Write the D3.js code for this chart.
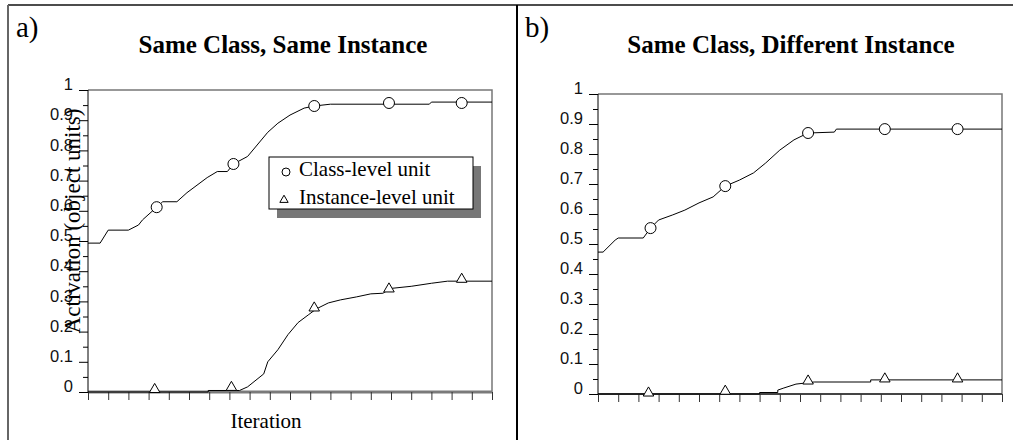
<!DOCTYPE html>
<html>
<head>
<meta charset="utf-8">
<script src="https://cdn.jsdelivr.net/npm/d3@7"></script>
<style>
  body { margin: 0; background: #fff; }
  .serif { font-family: "Liberation Serif", "Times New Roman", serif; }
  .sans { font-family: "Liberation Sans", Arial, sans-serif; }
</style>
</head>
<body>
<svg id="chart" width="1013" height="440"></svg>
<script>
// iteration, activation pairs
const sameClassLevel = [[0, 0.493], [6, 0.493], [10, 0.536], [20, 0.536], [25, 0.553], [27, 0.57], [34, 0.612],
  [37, 0.63], [44, 0.63], [49, 0.66], [59, 0.71], [64, 0.73], [69, 0.73], [72, 0.755], [79, 0.78], [89, 0.86],
  [94, 0.89], [100, 0.917], [107, 0.94], [112, 0.947], [120, 0.953], [169, 0.953], [170, 0.96], [200, 0.96]];
const sameInstanceLevel = [[0, 0], [59.5, 0], [59.5, 0.005], [75, 0.005], [79, 0.017], [87, 0.06], [89, 0.1],
  [94, 0.14], [99, 0.19], [104, 0.23], [109, 0.255], [113, 0.275], [119, 0.295], [125, 0.305], [133, 0.315],
  [140, 0.325], [146, 0.327], [150, 0.343], [160, 0.35], [170, 0.36], [178, 0.367], [200, 0.367]];
const diffClassLevel = [[0, 0.473], [2.5, 0.473], [8.5, 0.513], [10, 0.52], [22.4, 0.52], [26, 0.553], [30, 0.58],
  [37, 0.597], [43, 0.613], [50, 0.637], [57, 0.657], [63, 0.693], [70, 0.713], [77, 0.737], [83, 0.77],
  [90, 0.813], [97, 0.847], [100, 0.857], [104, 0.87], [117, 0.873], [118, 0.883], [200, 0.883]];
const diffInstanceLevel = [[0, 0], [80, 0], [80, 0.005], [89, 0.005], [89, 0.013], [92, 0.02], [98, 0.033],
  [107, 0.04], [135, 0.04], [135, 0.047], [200, 0.047]];

// marker positions
const sameClassMarks = [[34, 0.612], [72, 0.755], [112, 0.947], [149, 0.957], [185, 0.957]];
const sameInstanceMarks = [[33, 0.005], [71, 0.012], [112, 0.275], [149, 0.338], [185, 0.37]];
const diffClassMarks = [[26, 0.553], [63, 0.693], [104, 0.87], [142, 0.883], [178, 0.883]];
const diffInstanceMarks = [[25, 0.0], [63, 0.006], [104, 0.04], [142, 0.047], [178, 0.047]];

const yTickLabels = ["0", "0.1", "0.2", "0.3", "0.4", "0.5", "0.6", "0.7", "0.8", "0.9", "1"];
const xTicks = d3.range(0, 201, 10);
const legendLabels = ["Class-level unit", "Instance-level unit"];

const svg = d3.select("#chart");

// outer frame and panel divider
svg.append("line").attr("x1", 8).attr("x2", 1013).attr("y1", 5).attr("y2", 5)
  .attr("stroke", "#111").attr("stroke-width", 1.5);
svg.append("line").attr("x1", 8).attr("x2", 8).attr("y1", 5).attr("y2", 440)
  .attr("stroke", "#666").attr("stroke-width", 2);
svg.append("line").attr("x1", 517).attr("x2", 517).attr("y1", 5).attr("y2", 440)
  .attr("stroke", "#000").attr("stroke-width", 2);

function drawPanel(opts) {
  const x = d3.scaleLinear().domain([0, 200]).range([opts.left, opts.right]);
  const y = d3.scaleLinear().domain([0, 1]).range([opts.bottom, opts.top]);
  const g = svg.append("g");

  g.append("text").attr("class", "serif").attr("x", opts.tagX).attr("y", 37)
    .attr("font-size", 29).text(opts.tag);
  g.append("text").attr("class", "serif").attr("x", opts.titleX).attr("y", 53)
    .attr("text-anchor", "middle").attr("font-size", 25).attr("font-weight", "bold")
    .text(opts.title);

  // top and right frame
  g.append("path")
    .attr("d", `M${opts.left},${y(1)}H${opts.right}V${opts.bottom}`)
    .attr("fill", "none").attr("stroke", "#777").attr("stroke-width", 1.5);

  // bottom axis
  g.append("line").attr("x1", opts.left).attr("x2", opts.right)
    .attr("y1", opts.bottom).attr("y2", opts.bottom)
    .attr("stroke", opts.baseColor).attr("stroke-width", opts.baseWidth);
  const xAxis = d3.axisBottom(x).tickValues(xTicks).tickSize(8).tickFormat("");
  g.append("g").attr("transform", `translate(0,${opts.bottom})`).call(xAxis)
    .call(a => a.select(".domain").remove())
    .call(a => a.selectAll("line").attr("stroke", "#333"));

  // left axis with major + minor ticks
  const yMinor = d3.axisLeft(y).tickValues(d3.range(0.05, 1, 0.1)).tickSize(5).tickFormat("");
  g.append("g").attr("transform", `translate(${opts.left},0)`).call(yMinor)
    .call(a => a.select(".domain").remove());
  const yAxis = d3.axisLeft(y).tickValues(d3.range(0, 11).map(d => d / 10)).tickSize(9)
    .tickPadding(6).tickFormat((d, i) => yTickLabels[i]);
  g.append("g").attr("transform", `translate(${opts.left},0)`).call(yAxis)
    .call(a => a.select(".domain").attr("d", `M0,${y(1)}V${opts.bottom}`).attr("stroke", "#000"))
    .call(a => a.selectAll("text").attr("class", "sans").attr("font-size", 16.5)
      .attr("fill", "#111").attr("dy", "-0.02em"));

  const line = d3.line().x(d => x(d[0])).y(d => y(d[1]));
  [opts.classLevel, opts.instanceLevel].forEach(s => {
    g.append("path").attr("d", line(s)).attr("fill", "none")
      .attr("stroke", "#000").attr("stroke-width", 1);
  });

  g.selectAll(".cmark").data(opts.classMarks).enter().append("circle")
    .attr("cx", d => x(d[0])).attr("cy", d => y(d[1])).attr("r", 5.5)
    .attr("fill", "#fff").attr("stroke", "#000");
  const tri = d3.symbol().type(d3.symbolTriangle).size(48);
  g.selectAll(".tmark").data(opts.instanceMarks).enter().append("path")
    .attr("d", tri).attr("transform", d => `translate(${x(d[0])},${y(d[1]) - 1})`)
    .attr("fill", "#fff").attr("stroke", "#000");
  return g;
}

const ga = drawPanel({
  left: 88, right: 492, top: 90, bottom: 392, tag: "a)", tagX: 16, titleX: 283,
  title: "Same Class, Same Instance", baseColor: "#7a7a7a", baseWidth: 3,
  classLevel: sameClassLevel, instanceLevel: sameInstanceLevel,
  classMarks: sameClassMarks, instanceMarks: sameInstanceMarks
});
drawPanel({
  left: 598, right: 1002, top: 94, bottom: 394, tag: "b)", tagX: 525, titleX: 791,
  title: "Same Class, Different Instance", baseColor: "#444", baseWidth: 2,
  classLevel: diffClassLevel, instanceLevel: diffInstanceLevel,
  classMarks: diffClassMarks, instanceMarks: diffInstanceMarks
});

// axis titles (panel a only)
ga.append("text").attr("class", "serif").attr("font-size", 23)
  .attr("transform", "translate(80,221) rotate(-90)").attr("text-anchor", "middle")
  .text("Activation (object units)");
ga.append("text").attr("class", "serif").attr("font-size", 21)
  .attr("x", 266).attr("y", 428).attr("text-anchor", "middle").text("Iteration");

// legend with drop shadow
const legend = ga.append("g").attr("transform", "translate(269,157)");
legend.append("rect").attr("x", 8).attr("y", 9).attr("width", 204).attr("height", 52).attr("fill", "#777");
legend.append("rect").attr("width", 204).attr("height", 52).attr("fill", "#fff")
  .attr("stroke", "#000").attr("stroke-width", 1);
legend.append("circle").attr("cx", 17).attr("cy", 15).attr("r", 4)
  .attr("fill", "#fff").attr("stroke", "#000");
legend.append("path").attr("d", d3.symbol().type(d3.symbolTriangle).size(30))
  .attr("transform", "translate(15,43)").attr("fill", "#fff").attr("stroke", "#000");
legend.selectAll(".ltxt").data(legendLabels).enter().append("text")
  .attr("class", "serif").attr("font-size", 21)
  .attr("x", 30).attr("y", (d, i) => 19 + i * 28).text(d => d);
</script>
</body>
</html>
